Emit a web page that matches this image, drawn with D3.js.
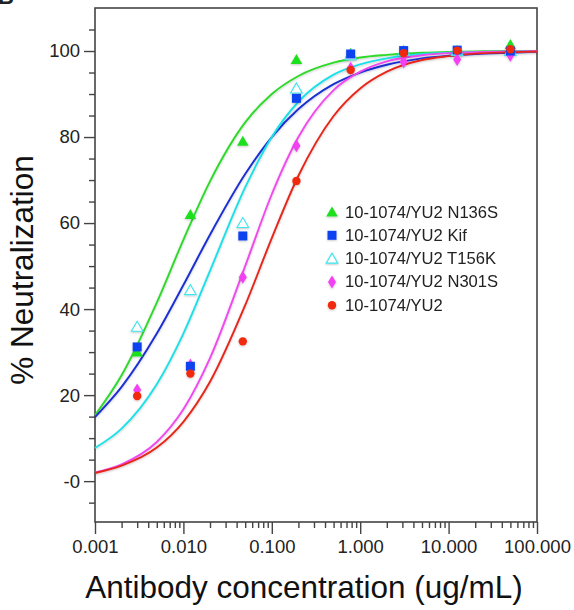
<!DOCTYPE html>
<html>
<head>
<meta charset="utf-8">
<script src="https://cdn.jsdelivr.net/npm/d3@7"></script>
<style>
  html, body { margin: 0; padding: 0; background: #fff; }
  svg { display: block; font-family: "Liberation Sans", Arial, Helvetica, sans-serif; }
</style>
</head>
<body>
<svg id="chart" width="574" height="610"></svg>
<script>
// Neutralization curves, 10-1074 vs YU2 variants.

const concentrations = [0.003, 0.012, 0.047, 0.19, 0.78, 3.1, 12.5, 50];
const n136s = [30, 62, 79, 98, 99.5, 100, 100, 101.5];
const kif = [31.2, 26.7, 57, 89, 99.3, 100.1, 100.2, 100];
const t156k = [35.9, 44.4, 60, 91.3, 99, 100, 100, 100];
const n301s = [21.2, 27, 47.4, 78, 96, 97.5, 98, 99];
const yu2 = [19.8, 25, 32.5, 69.8, 95.6, 99.5, 100.1, 100.4];

// fitted curves
const curveX = [0.001, 0.002, 0.005, 0.01, 0.02, 0.05, 0.1, 0.2, 0.5, 1, 2, 5, 10, 20, 50, 100];
const fitN136s = [15.3, 24.6, 41.5, 56.1, 69.7, 83.4, 90.0, 94.2, 97.3, 98.5, 99.1, 99.6, 99.8, 99.9, 100, 100];
const fitKif = [14.9, 21.9, 34.3, 45.6, 57.3, 71.4, 80.0, 86.5, 92.3, 95.0, 96.8, 98.3, 98.9, 99.3, 99.6, 99.8];
const fitT156k = [7.7, 12.2, 22.5, 34.3, 48.9, 68.3, 80.0, 88.2, 94.5, 96.9, 98.3, 99.3, 99.6, 99.8, 99.9, 100];
const fitN301s = [2.0, 3.9, 9.1, 16.7, 28.6, 50, 66.7, 80, 90.9, 95.2, 97.6, 99.0, 99.5, 99.75, 99.9, 99.95];
const fitYu2 = [1.9, 3.6, 7.8, 13.8, 23.1, 40.9, 56.5, 71.0, 84.9, 91.3, 95.2, 97.9, 98.8, 99.4, 99.7, 99.9];

const xTicks = [0.001, 0.01, 0.1, 1, 10, 100];
const yTicks = [0, 20, 40, 60, 80, 100];
const yTickLabels = ["-0", "20", "40", "60", "80", "100"];

const series = [
  { name: "10-1074/YU2 N136S", pts: n136s, fit: fitN136s, shape: "tri", fill: "#1fe01f", line: "#2fd92a" },
  { name: "10-1074/YU2 Kif", pts: kif, fit: fitKif, shape: "square", fill: "#1142f0", line: "#1a2fd2" },
  { name: "10-1074/YU2 T156K", pts: t156k, fit: fitT156k, shape: "opentri", fill: "#3fe4ec", line: "#1fe0e8" },
  { name: "10-1074/YU2 N301S", pts: n301s, fit: fitN301s, shape: "diamond", fill: "#f23ff2", line: "#f048ee" },
  { name: "10-1074/YU2", pts: yu2, fit: fitYu2, shape: "circle", fill: "#f2290f", line: "#e6261a" },
];
// markers stacked like the original (blue & red on top)
const markerOrder = [0, 2, 3, 1, 4];

const L = 95, R = 537, T = 8, B = 522;
const svg = d3.select("#chart");

const x = d3.scaleLog().domain([0.001, 100]).range([L, R]);
const y = d3.scaleLinear().domain([-9.5, 110]).range([B, T]);

const defs = svg.append("defs");
const f = defs.append("filter").attr("id", "soft").attr("x", "-20%").attr("y", "-20%")
  .attr("width", "140%").attr("height", "140%");
f.append("feDropShadow").attr("dx", 0).attr("dy", 1).attr("stdDeviation", 1.2)
  .attr("flood-color", "#000").attr("flood-opacity", 0.22);

// cut-off panel letter
svg.append("text").attr("x", -2).attr("y", 4).attr("font-size", 22).attr("font-weight", "bold")
  .attr("fill", "#222").text("B");

// ---- axes ----
const axisCol = "#444";
const yMinor = d3.range(-5, 106, 5).filter((v) => v % 20 !== 0);
const xMinor = [];
for (let e = -3; e < 2; e++) for (let k = 2; k <= 9; k++) xMinor.push(k * Math.pow(10, e));

const gy = svg.append("g").attr("transform", `translate(${L},0)`);
gy.call(d3.axisLeft(y).tickValues(yMinor).tickSize(6).tickFormat(""));
gy.append("g").call(d3.axisLeft(y).tickValues(yTicks).tickSize(11).tickPadding(4)
  .tickFormat((d, i) => yTickLabels[i]));
gy.selectAll(".domain").remove();
gy.selectAll("line").attr("stroke", axisCol).attr("stroke-width", 1.4);
gy.selectAll("text").attr("font-size", 18.5).attr("fill", "#222")
  .attr("font-family", "'Liberation Sans', Arial, sans-serif");

const gx = svg.append("g").attr("transform", `translate(0,${B})`);
gx.call(d3.axisBottom(x).tickValues(xMinor).tickSize(6).tickFormat(""));
gx.append("g").call(d3.axisBottom(x).tickValues(xTicks).tickSize(12).tickPadding(6)
  .tickFormat((d) => d.toFixed(3)));
gx.selectAll(".domain").remove();
gx.selectAll("line").attr("stroke", axisCol).attr("stroke-width", 1.4);
gx.selectAll("text").attr("font-size", 18.5).attr("fill", "#222")
  .attr("font-family", "'Liberation Sans', Arial, sans-serif");

// frame
svg.append("rect").attr("x", L).attr("y", T).attr("width", R - L).attr("height", B - T)
  .attr("fill", "none").attr("stroke", axisCol).attr("stroke-width", 1.6);

// titles
svg.append("text").attr("x", 304).attr("y", 598).attr("text-anchor", "middle")
  .attr("font-size", 31.5).attr("fill", "#111").text("Antibody concentration (ug/mL)");
svg.append("text").attr("transform", "translate(33,270) rotate(-90)").attr("text-anchor", "middle")
  .attr("font-size", 31.5).attr("fill", "#111").text("% Neutralization");

// ---- curves ----
const line = d3.line().x((d) => x(d[0])).y((d) => y(d[1])).curve(d3.curveMonotoneX);
const gCurves = svg.append("g").attr("filter", "url(#soft)");
gCurves.selectAll("path").data(series).join("path")
  .attr("d", (s) => line(curveX.map((c, i) => [c, s.fit[i]])))
  .attr("fill", "none").attr("stroke", (s) => s.line).attr("stroke-width", 1.9);

// ---- markers ----
function marker(g, shape, col) {
  if (shape === "tri") {
    g.append("path").attr("d", "M0,-5.5L5.8,4.5L-5.8,4.5Z").attr("fill", col);
  } else if (shape === "opentri") {
    g.append("path").attr("d", "M0,-5.5L5.8,4.5L-5.8,4.5Z").attr("fill", "#fff")
      .attr("stroke", col).attr("stroke-width", 1.1);
  } else if (shape === "square") {
    g.append("rect").attr("x", -4.5).attr("y", -4.5).attr("width", 9).attr("height", 9).attr("fill", col);
  } else if (shape === "diamond") {
    g.append("path").attr("d", "M0,-6.5L4,0L0,6.5L-4,0Z").attr("fill", col);
  } else {
    g.append("circle").attr("r", 4.2).attr("fill", col);
  }
}

const gPts = svg.append("g").attr("filter", "url(#soft)");
for (const si of markerOrder) {
  const s = series[si];
  s.pts.forEach((v, i) => {
    const g = gPts.append("g").attr("transform", `translate(${x(concentrations[i])},${y(v)})`);
    marker(g, s.shape, s.fill);
  });
}

// ---- legend ----
const gLeg = svg.append("g").attr("transform", "translate(332,212)");
series.forEach((s, i) => {
  const row = gLeg.append("g").attr("transform", `translate(0,${i * 23.3})`);
  marker(row.append("g").attr("filter", "url(#soft)"), s.shape, s.fill);
  row.append("text").attr("x", 13).attr("y", 5.5).attr("font-size", 16.6).attr("fill", "#222").text(s.name);
});
</script>
</body>
</html>
